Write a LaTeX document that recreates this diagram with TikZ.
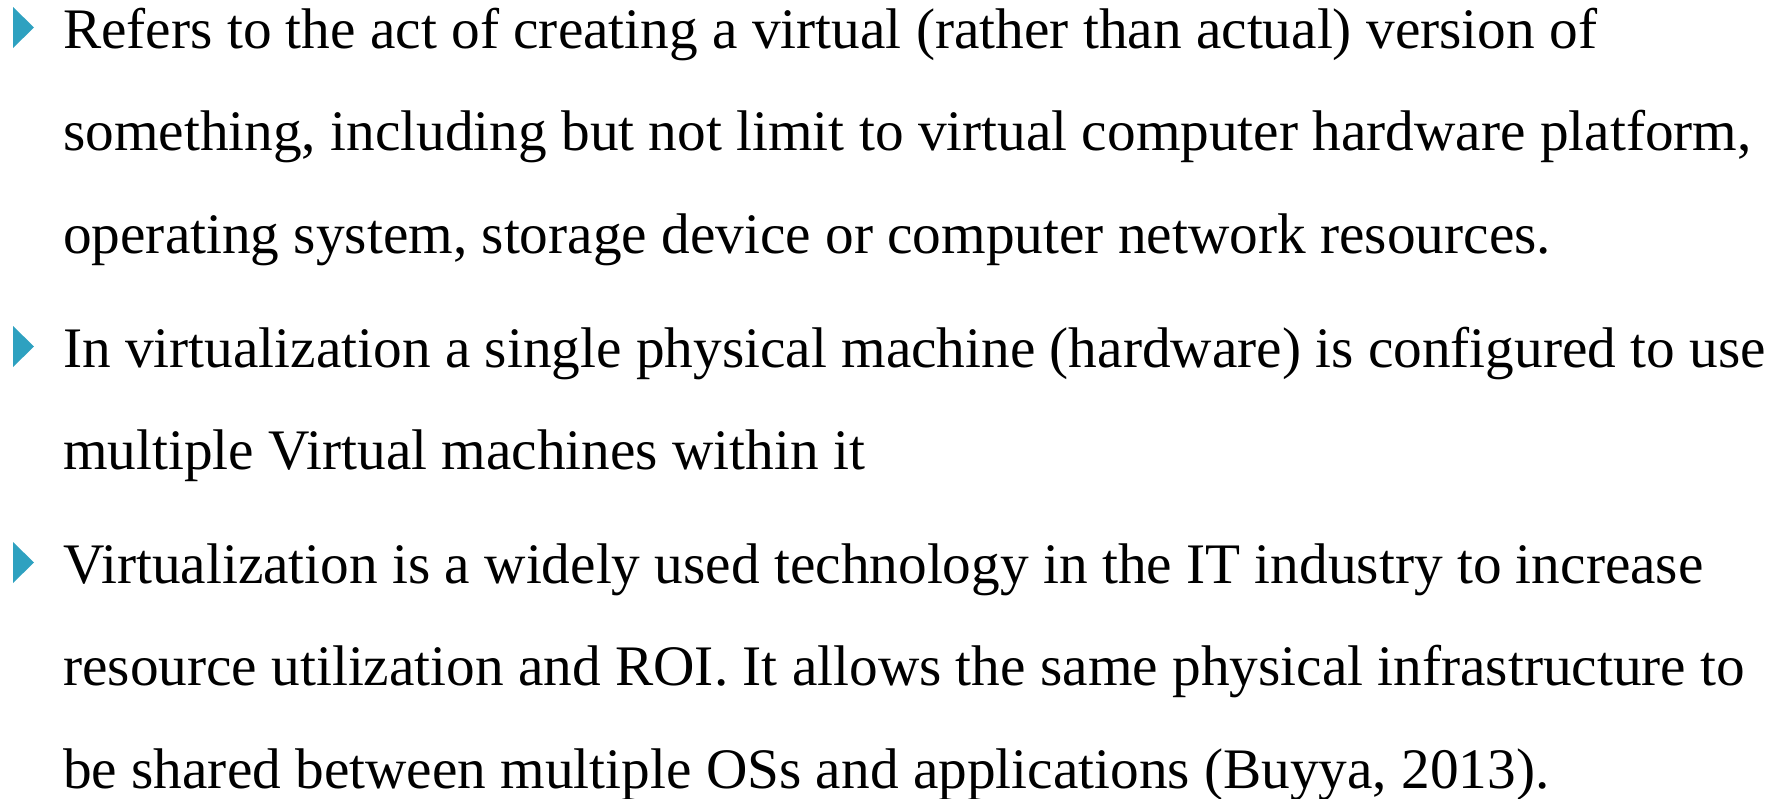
\documentclass[tikz,border=0pt]{standalone}
\usepackage{fontspec}
\setmainfont{Liberation Serif}
\usepackage{tikz}
\definecolor{bulletblue}{RGB}{46,161,192}

\begin{document}
\begin{tikzpicture}[x=1pt, y=-1pt,
    line_node/.style={anchor=base west, inner sep=0pt, font=\fontsize{57.3}{60}\selectfont},
    bullet_mark/.style={fill=bulletblue}]

    \useasboundingbox (0,0) rectangle (1784,798);

    \foreach \y in {48, 367, 583}
        \fill[bullet_mark] (13,\y-41) -- (34,\y-20.5) -- (13,\y) -- cycle;

    \node[line_node] (l1) at (63, 48) {Refers to the act of creating a virtual (rather than actual) version of};
    \node[line_node] (l2) at (63, 150) {something, including but not limit to virtual computer hardware platform,};
    \node[line_node] (l3) at (63, 253) {operating system, storage device or computer network resources.};
    \node[line_node] (l4) at (63, 367) {In virtualization a single physical machine (hardware) is configured to use};
    \node[line_node] (l5) at (63, 469) {multiple Virtual machines within it};
    \node[line_node] (l6) at (63, 583) {Virtualization is a widely used technology in the IT industry to increase};
    \node[line_node] (l7) at (63, 685) {resource utilization and ROI. It allows the same physical infrastructure to};
    \node[line_node] (l8) at (63, 788) {be shared between multiple OSs and applications (Buyya, 2013).};
\end{tikzpicture}
\end{document}
